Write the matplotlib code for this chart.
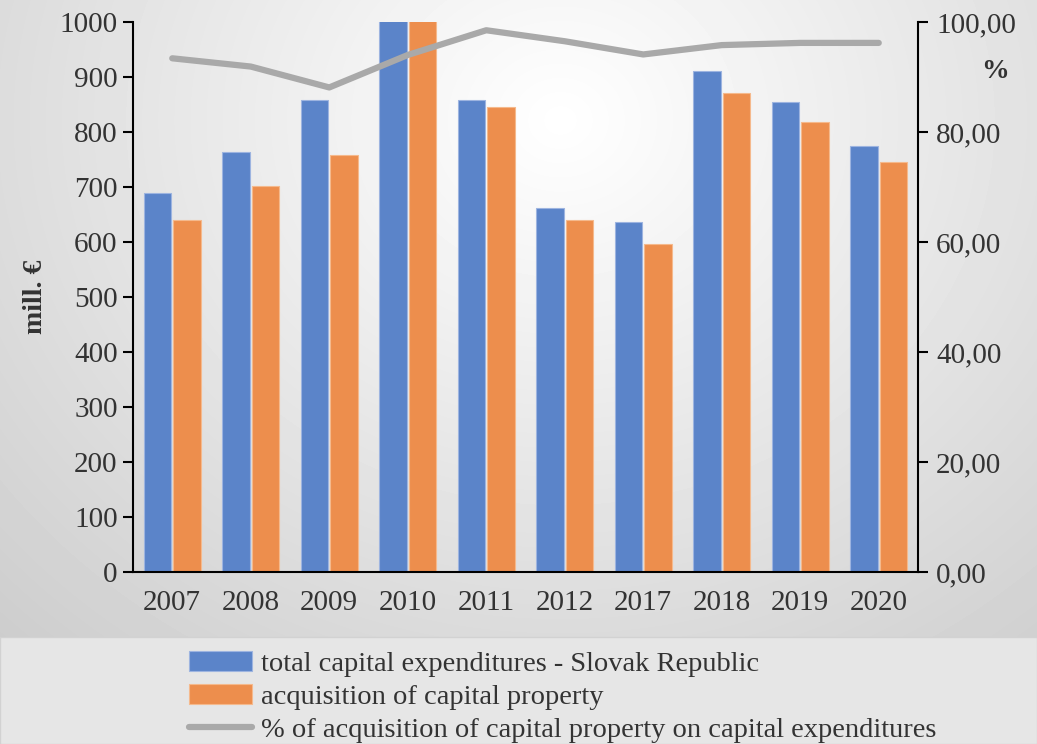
import numpy as np
import matplotlib
matplotlib.use("Agg")
import matplotlib.pyplot as plt
from matplotlib.patches import Rectangle

years = ["2007", "2008", "2009", "2010", "2011", "2012", "2017", "2018", "2019", "2020"]
total_capex = [689, 763, 859, 1100, 859, 662, 637, 911, 854, 775]
acquisition = [640, 702, 758, 1035, 846, 640, 596, 871, 819, 745]
share_pct = [93.4, 91.9, 88.1, 94.0, 98.5, 96.5, 94.1, 95.8, 96.2, 96.2]

left_ticks = list(range(0, 1001, 100))
right_ticks = [0, 20, 40, 60, 80, 100]
right_labels = ["0,00", "20,00", "40,00", "60,00", "80,00", "100,00"]

blue = "#5b84c9"
orange = "#ed8e4d"
grey = "#a9a9a9"
text_col = "#333333"

plt.rcParams["font.family"] = ["Liberation Serif", "DejaVu Serif"]

W, H = 1037, 744
fig = plt.figure(figsize=(W / 100, H / 100), dpi=100)

# radial gradient background
bg = fig.add_axes([0, 0, 1, 1], zorder=-10)
yy, xx = np.mgrid[0:H, 0:W]
r = np.sqrt(((xx - 560) / 700.0) ** 2 + ((yy - 120) / 620.0) ** 2)
shade = np.clip(1.0 - 0.17 * r, 0.8, 1.0)
bg.imshow(shade, cmap="gray", vmin=0, vmax=1, extent=[0, W, H, 0], aspect="auto")
bg.add_patch(Rectangle((0, 637), W, 107, facecolor="#e6e6e6", edgecolor="#d2d2d2", lw=1))
bg.set_xlim(0, W)
bg.set_ylim(H, 0)
bg.axis("off")

ax = fig.add_axes([133 / W, (H - 572) / H, (918 - 133) / W, 550 / H])
ax.patch.set_alpha(0)
x = np.arange(len(years))
w = 0.35
ax.bar(x - 0.185, total_capex, w, color=blue, edgecolor="#9db4e0", lw=0.8,
       label="total capital expenditures - Slovak Republic")
ax.bar(x + 0.185, acquisition, w, color=orange, edgecolor="#f5b98c", lw=0.8,
       label="acquisition of capital property")
ax.set_xlim(-0.5, len(years) - 0.5)
ax.set_ylim(0, 1000)
ax.set_yticks(left_ticks)
ax.set_xticks(x)
ax.set_xticklabels(years)
ax.tick_params(axis="x", length=0, pad=13, labelsize=21, labelcolor=text_col)
ax.tick_params(axis="y", length=7, width=1.5, direction="out", labelsize=21,
               labelcolor=text_col, pad=4)
for s in ["top", "right"]:
    ax.spines[s].set_visible(False)
ax.spines["left"].set_linewidth(1.5)
ax.spines["bottom"].set_linewidth(1.5)
ax.set_ylabel("mill. €", fontsize=20, fontweight="bold", color=text_col, labelpad=8)

ax2 = ax.twinx()
ax2.plot(x, share_pct, color=grey, lw=4.5, solid_capstyle="round",
         label="% of acquisition of capital property on capital expenditures")
ax2.set_ylim(0, 100)
ax2.set_yticks(right_ticks)
ax2.set_yticklabels(right_labels)
ax2.tick_params(axis="y", length=7, width=1.5, direction="out", labelsize=21,
                labelcolor=text_col, pad=6)
for s in ["top", "left", "bottom"]:
    ax2.spines[s].set_visible(False)
ax2.spines["right"].set_linewidth(1.5)
fig.text(995 / W, 1 - 72 / H, "%", fontsize=20, fontweight="bold", color=text_col,
         ha="center", va="center")

h1, l1 = ax.get_legend_handles_labels()
h2, l2 = ax2.get_legend_handles_labels()
fig.legend(h1 + h2, l1 + l2, loc="upper left", bbox_to_anchor=(178 / W, 1 - 640 / H),
           frameon=False, fontsize=20.5, handlelength=2.2, handletextpad=0.3,
           labelspacing=0.25, borderaxespad=0, labelcolor=text_col)

fig.savefig("out.png", dpi=100)
